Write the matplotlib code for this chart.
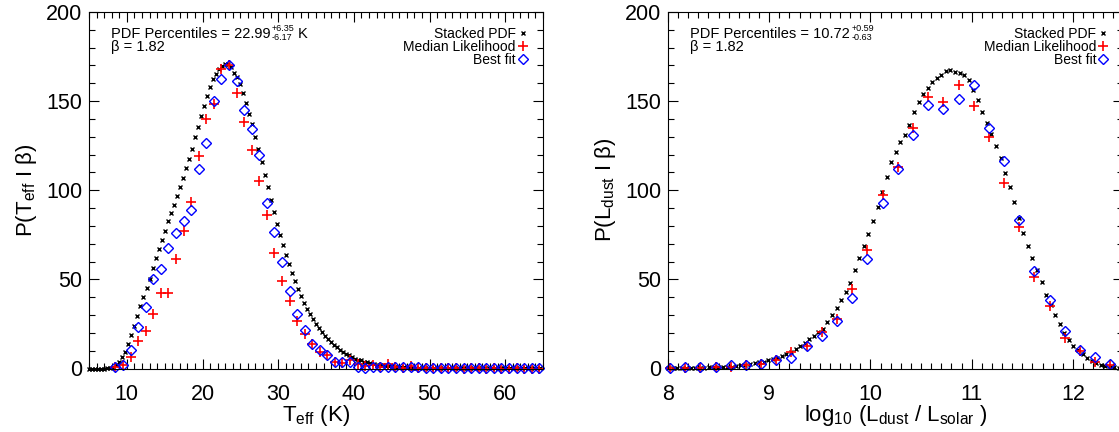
import numpy as np
import matplotlib
matplotlib.use('Agg')
import matplotlib.pyplot as plt
from matplotlib.ticker import MultipleLocator
from matplotlib.transforms import IdentityTransform

plt.rcParams['font.family'] = ['Liberation Sans', 'DejaVu Sans']
plt.rcParams['mathtext.fontset'] = 'custom'
plt.rcParams['mathtext.rm'] = 'Liberation Sans'
plt.rcParams['mathtext.it'] = 'Liberation Sans:italic'
plt.rcParams['mathtext.bf'] = 'Liberation Sans:bold'

# ---- left panel: T_eff ----
# stacked PDF, bins of 0.4 K starting at 5 K
teff_pdf_start, teff_pdf_step = 5.0, 0.4
teff_pdf = [0, 0, 0, 0, 0, 0, 0.1, 0.3, 0.8, 2.0,
            3.5, 6.3, 9.5, 13.8, 19.0, 23.9, 29.3, 34.9, 40.3, 45.2,
            50.3, 56.4, 62.0, 67.1, 72.3, 77.3, 82.5, 87.0, 91.9, 96.9,
            102.0, 107.0, 112.4, 117.8, 123.4, 129.6, 135.6, 141.6, 147.3, 152.9,
            158.0, 162.3, 165.4, 167.9, 169.7, 171.0, 171.0, 169.4, 166.0, 163.6,
            159.5, 154.8, 149.2, 143.0, 137.4, 130.0, 123.1, 116.1, 108.7, 101.6,
            94.5, 87.6, 81.1, 74.9, 69.3, 63.9, 58.7, 53.8, 49.3, 44.6,
            40.4, 36.8, 33.6, 30.6, 27.7, 25.0, 22.7, 20.3, 18.5, 16.4,
            14.7, 13.3, 11.8, 10.5, 9.4, 8.2, 7.3, 6.3, 5.6, 5.0,
            4.5, 3.9, 3.4, 3.0, 2.6, 2.2, 1.9, 1.7, 1.5, 1.3,
            1.2, 1.0, 0.9, 0.8, 0.7, 0.6, 0.55, 0.5, 0.45, 0.4,
            0.35, 0.3, 0.3, 0.25, 0.2, 0.2, 0.2, 0.2, 0.15, 0.15,
            0.15, 0.15, 0.1, 0.1, 0.1, 0.1, 0.1, 0.1, 0.1, 0.08,
            0.08, 0.08, 0.08, 0.07, 0.07, 0.07, 0.06, 0.06, 0.06, 0.06,
            0.05, 0.05, 0.05, 0.05, 0.05, 0.04, 0.04, 0.04, 0.04, 0.04]

# median likelihood / best fit, 1 K bins centred at 8.5 K ...
teff_bin_start, teff_bin_step = 8.5, 1.0
teff_median = [0.7, 1.7, 6.7, 15.3, 21.3, 30.6, 42.4, 42.4, 61.6, 77.3,
               93.2, 119.1, 139.9, 148.3, 167.9, 170.3, 154.8, 138.5, 122.5, 105.3,
               85.9, 64.6, 49.3, 38.1, 26.5, 19.4, 13.8, 9.5, 7.8, 3.7,
               3.2, 4.5, 2.5, 1.5, 2.0, 1.0, 2.5, 1.0, 0.5, 1.2,
               0.5, 0.3, 0.2, 0.4, 0.1, 0.2, 0.0, 0.3, 0.1, 0.0,
               0.1, 0.0, 0.0, 0.1, 0.0, 0.0, 0.0]
teff_best = [0.8, 1.7, 10.1, 23.5, 34.7, 50.0, 55.8, 67.6, 76.2, 82.9,
             88.9, 112.2, 126.4, 150.1, 162.3, 170.3, 161.3, 144.9, 134.3, 119.9,
             93.0, 76.8, 59.8, 43.3, 30.6, 21.7, 13.8, 10.1, 7.8, 3.7,
             3.4, 3.7, 0.7, 0.5, 0.6, 0.8, 1.0, 0.8, 0.8, 0.6,
             0.8, 0.5, 0.3, 0.4, 0.2, 0.3, 0.2, 0.3, 0.2, 0.1,
             0.2, 0.1, 0.2, 0.1, 0.1, 0.1, 0.1]

# ---- right panel: log L_dust ----
ldust_pdf_start, ldust_pdf_step = 8.0, 0.045
ldust_pdf = [0.2, 0.25, 0.3, 0.35, 0.4, 0.4, 0.5, 0.5, 0.55, 0.6,
             0.7, 0.8, 0.9, 1.0, 1.1, 1.4, 1.7, 2.1, 2.4, 2.9,
             3.4, 3.9, 4.6, 5.3, 6.0, 7.0, 8.1, 9.2, 10.7, 12.6,
             14.5, 16.4, 18.4, 20.3, 22.4, 26.2, 30.2, 34.0, 38.4, 43.1,
             47.8, 55.0, 62.2, 68.7, 75.4, 82.5, 90.5, 99.0, 107.5, 115.7,
             121.5, 127.0, 131.2, 136.8, 144.1, 149.4, 154.1, 157.4, 160.5, 162.7,
             164.8, 166.7, 167.2, 166.6, 165.8, 164.8, 161.7, 156.5, 150.9, 144.0,
             137.7, 131.7, 124.9, 118.0, 109.8, 101.6, 93.2, 84.6, 76.0, 68.8,
             62.0, 55.1, 48.3, 41.5, 35.7, 29.9, 24.8, 20.1, 16.2, 12.8,
             10.4, 8.2, 5.8, 4.3, 3.1, 2.2, 1.4, 0.9, 0.6, 0.4,
             0.3]

ldust_bin_start, ldust_bin_step = 8.02, 0.15
ldust_median = [0.2, 0.3, 0.5, 0.8, 1.0, 2.2, 2.6, 4.9, 9.1, 12.9,
                20.3, 27.6, 44.6, 66.7, 97.1, 112.8, 135.2, 152.4, 149.6, 159.1,
                147.3, 130.0, 103.8, 79.6, 51.2, 35.3, 17.2, 9.7, 3.5, 2.1]
ldust_best = [0.5, 0.6, 1.0, 0.6, 1.7, 1.9, 2.4, 4.5, 6.0, 12.5,
              18.1, 26.7, 39.4, 61.6, 93.0, 111.7, 131.1, 147.7, 145.5, 151.4,
              158.9, 135.2, 116.5, 83.3, 54.9, 38.5, 20.9, 10.6, 6.3, 2.6]

beta = 1.82
teff_pct = (22.99, 6.35, 6.17)
ldust_pct = (10.72, 0.59, 0.63)

RED = '#ff0000'
BLUE = '#0000ff'


def grid(start, step, n):
    return start + step * np.arange(n)


def percentile_text(fig, ax, pct, unit):
    # "PDF Percentiles = 22.99" then stacked +err / -err, then unit
    x0, y0 = 0.048, 0.928
    main = ax.text(x0, y0, 'PDF Percentiles = %.2f' % pct[0],
                   transform=ax.transAxes, fontsize=10.5, va='baseline', ha='left')
    r = fig.canvas.get_renderer()
    bb = main.get_window_extent(r)
    bx, by = ax.transAxes.transform((x0, y0))
    xs = bb.x1 + 1.5
    sup = fig.text(xs, by + 6.5, '+%.2f' % pct[1], transform=IdentityTransform(),
                   fontsize=6.5, va='baseline', ha='left')
    sub = fig.text(xs, by - 2.5, '-%.2f' % pct[2], transform=IdentityTransform(),
                   fontsize=6.5, va='baseline', ha='left')
    if unit:
        w = max(sup.get_window_extent(r).x1, sub.get_window_extent(r).x1)
        fig.text(w + 3, by, unit, transform=IdentityTransform(), fontsize=10.5,
                 va='baseline', ha='left')


def panel(fig, ax, xpdf, ypdf, xbin, ymed, ybest, pct, unit, xlim, xmajor, xminor,
          xlabel, ylabel):
    ax.plot(xpdf, ypdf, ls='none', marker='x', ms=2.6, mew=1.0, color='black',
            clip_on=False)
    ax.plot(xbin, ymed, ls='none', marker='+', ms=7, mew=1.2, color=RED,
            clip_on=False)
    ax.plot(xbin, ybest, ls='none', marker='D', ms=5.5, mew=1.0, mfc='none',
            mec=BLUE, clip_on=False)

    ax.set_xlim(*xlim)
    ax.set_ylim(0, 200)
    ax.xaxis.set_major_locator(MultipleLocator(xmajor))
    ax.xaxis.set_minor_locator(MultipleLocator(xminor))
    ax.yaxis.set_major_locator(MultipleLocator(50))
    ax.yaxis.set_minor_locator(MultipleLocator(10))
    ax.tick_params(which='both', direction='in', top=True, right=True,
                   width=0.8, labelsize=15.5)
    ax.tick_params(which='major', length=7)
    ax.tick_params(which='minor', length=4.5)
    ax.tick_params(axis='x', pad=11)
    ax.tick_params(axis='y', pad=5)
    for s in ax.spines.values():
        s.set_linewidth(0.8)

    ax.set_xlabel(xlabel, fontsize=16, labelpad=-1)
    ax.set_ylabel(ylabel, fontsize=16, labelpad=5)

    percentile_text(fig, ax, pct, unit)
    ax.text(0.048, 0.891, '\u03b2 = %.2f' % beta, transform=ax.transAxes,
            fontsize=10.5, va='baseline', ha='left')

    # legend keys, text right aligned with symbol after it
    keys = [('Stacked PDF', dict(marker='x', ms=2.6, mew=1.0, color='black')),
            ('Median Likelihood', dict(marker='+', ms=7, mew=1.2, color=RED)),
            ('Best fit', dict(marker='D', ms=5, mew=1.0, mfc='none', mec=BLUE))]
    for i, (lab, kw) in enumerate(keys):
        yb = 0.928 - 0.037 * i
        ax.text(0.940, yb, lab, transform=ax.transAxes, fontsize=10,
                va='baseline', ha='right')
        ax.plot([0.955], [yb + 0.013], ls='none', transform=ax.transAxes,
                clip_on=False, **kw)


fig = plt.figure(figsize=(11.19, 4.32), dpi=100)
ax1 = fig.add_axes([89 / 1119, 63.5 / 432, 454 / 1119, 356.5 / 432])
ax2 = fig.add_axes([668 / 1119, 63.5 / 432, 455.5 / 1119, 356.5 / 432])

panel(fig, ax1,
      grid(teff_pdf_start, teff_pdf_step, len(teff_pdf)), teff_pdf,
      grid(teff_bin_start, teff_bin_step, len(teff_median)), teff_median, teff_best,
      teff_pct, 'K', (5, 65), 10, 1,
      r'T$_{\mathrm{eff}}$ (K)', r'P(T$_{\mathrm{eff}}$ I $\mathrm{\beta}$)')

panel(fig, ax2,
      grid(ldust_pdf_start, ldust_pdf_step, len(ldust_pdf)), ldust_pdf,
      grid(ldust_bin_start, ldust_bin_step, len(ldust_median)), ldust_median, ldust_best,
      ldust_pct, '', (8, 12.5), 1, 0.1,
      r'log$_{10}$ (L$_{\mathrm{dust}}$ / L$_{\mathrm{solar}}$ )',
      r'P(L$_{\mathrm{dust}}$ I $\mathrm{\beta}$)')

fig.savefig('out.png', dpi=100)
